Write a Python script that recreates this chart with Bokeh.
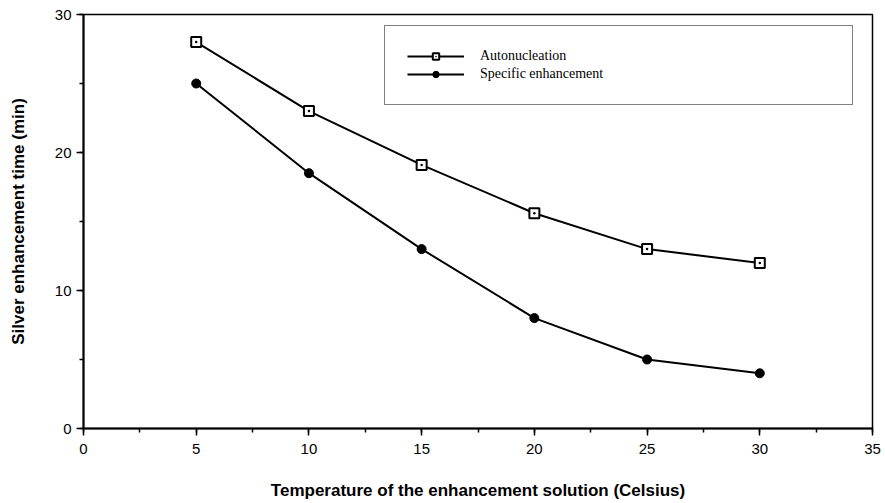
from bokeh.plotting import figure
from bokeh.models import Range1d, SingleIntervalTicker, Legend, LegendItem
from bokeh.embed import file_html
from bokeh.resources import INLINE

temperature = [5, 10, 15, 20, 25, 30]
autonucleation = [28.0, 23.0, 19.1, 15.6, 13.0, 12.0]
specific_enhancement = [25.0, 18.5, 13.0, 8.0, 5.0, 4.0]
series_names = ["Autonucleation", "Specific enhancement"]

p = figure(width=885, height=503, output_backend="svg", toolbar_location=None,
           x_range=Range1d(0, 35), y_range=Range1d(0, 30),
           min_border_left=83, min_border_right=13, min_border_top=14, min_border_bottom=75)
p.background_fill_color = "white"
p.border_fill_color = "white"
p.grid.visible = False
p.outline_line_color = "black"
p.outline_line_width = 1.5

p.xaxis.ticker = SingleIntervalTicker(interval=5, num_minor_ticks=2)
p.yaxis.ticker = SingleIntervalTicker(interval=10, num_minor_ticks=2)
for ax in (p.xaxis, p.yaxis):
    ax.axis_line_width = 2
    ax.axis_line_color = "black"
    ax.major_tick_in = 0
    ax.major_tick_out = 7
    ax.minor_tick_in = 0
    ax.minor_tick_out = 4
    ax.major_tick_line_width = 1.5
    ax.minor_tick_line_width = 1.5
    ax.major_label_text_font = "Liberation Sans"
    ax.major_label_text_font_size = "15px"
    ax.major_label_text_color = "black"
    ax.axis_label_text_font = "Liberation Sans"
    ax.axis_label_text_font_style = "bold"
    ax.axis_label_text_font_size = "17px"
    ax.axis_label_text_color = "black"
    ax.axis_label_standoff = 24

p.xaxis.axis_label = "Temperature of the enhancement solution (Celsius)"
p.yaxis.axis_label = "Silver enhancement time (min)"
p.xaxis.major_label_standoff = 8
p.yaxis.major_label_standoff = 5

l1 = p.line(temperature, autonucleation, line_color="black", line_width=2)
m1 = p.scatter(temperature, autonucleation, marker="square_dot", size=10,
               fill_color="white", line_color="black", line_width=2)
l2 = p.line(temperature, specific_enhancement, line_color="black", line_width=2)
m2 = p.scatter(temperature, specific_enhancement, marker="circle", size=9,
               fill_color="black", line_color="black")

legend = Legend(items=[LegendItem(label=series_names[0], renderers=[l1, m1]),
                       LegendItem(label=series_names[1], renderers=[l2, m2])],
                location=(301, 323), margin=0, padding=22, spacing=2,
                glyph_width=57, glyph_height=16, label_height=16, label_width=350,
                label_standoff=16, label_text_font="Liberation Serif",
                label_text_font_size="14px", label_text_color="black",
                border_line_color="black", border_line_width=1.5,
                background_fill_color="white", background_fill_alpha=1)
p.add_layout(legend)

open("out.html", "w").write(file_html(p, INLINE))
